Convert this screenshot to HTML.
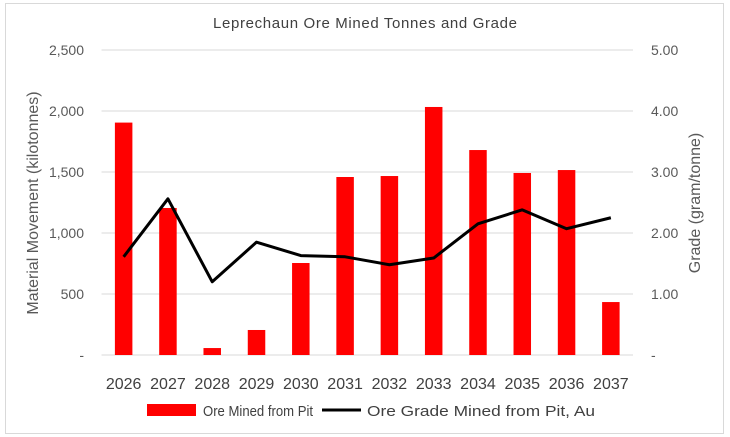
<!DOCTYPE html>
<html><head><meta charset="utf-8"><style>
body{margin:0;background:#fff;}
svg{display:block;font-family:"Liberation Sans",sans-serif;}
</style></head><body>
<svg id="chart" width="730" height="437">
<rect x="5.5" y="3.5" width="718" height="430" fill="#fff" stroke="#d9d9d9"/>
<text x="365" y="28" text-anchor="middle" font-size="15" fill="#404040" textLength="304">Leprechaun Ore Mined Tonnes and Grade</text>
<g id="grid"></g><g id="bars"></g><g id="line"></g><g id="axes"></g>
<text transform="translate(38,203) rotate(-90)" text-anchor="middle" font-size="16" fill="#595959">Material Movement (kilotonnes)</text>
<text transform="translate(700,203) rotate(-90)" text-anchor="middle" font-size="16" fill="#595959">Grade (gram/tonne)</text>
<g>
<rect x="147" y="404" width="49" height="12" fill="#ff0000"/>
<text x="203" y="416" font-size="15" fill="#404040" textLength="110" lengthAdjust="spacingAndGlyphs">Ore Mined from Pit</text>
<line x1="322" y1="410" x2="361" y2="410" stroke="#000" stroke-width="3"/>
<text x="367" y="416" font-size="15" fill="#404040" textLength="228" lengthAdjust="spacingAndGlyphs">Ore Grade Mined from Pit, Au</text>
</g>
</svg>
<script>
const categories=["2026","2027","2028","2029","2030","2031","2032","2033","2034","2035","2036","2037"];
const oreMined=[1905,1205,57,205,754,1459,1467,2033,1680,1492,1516,434];
const grade=[1.61,2.56,1.20,1.85,1.63,1.61,1.48,1.59,2.15,2.38,2.07,2.25];
const leftTicks=[0,500,1000,1500,2000,2500];
const leftTickLabels=["-","500","1,000","1,500","2,000","2,500"];
const rightTicks=[0,1,2,3,4,5];
const rightTickLabels=["-","1.00","2.00","3.00","4.00","5.00"];
const NS="http://www.w3.org/2000/svg";
const X0=101.5,X1=633,Y0=355,Y1=50;
const band=(X1-X0)/categories.length;
const xc=i=>X0+band*(i+0.5);
const yL=v=>Y0-(v/2500)*(Y0-Y1);
const yR=v=>Y0-(v/5)*(Y0-Y1);
function mk(tag,attrs,parent,text){const e=document.createElementNS(NS,tag);for(const k in attrs)e.setAttribute(k,attrs[k]);if(text!==undefined)e.textContent=text;document.getElementById(parent).appendChild(e);return e;}
leftTicks.forEach((t,i)=>{
 const g=mk('line',{x1:X0,x2:X1,y1:yL(t),y2:yL(t),stroke:'#d9d9d9','stroke-width':1},'grid');
 
 
 const l=mk('text',{x:84,y:yL(t)+5,'text-anchor':'end','font-size':14,fill:'#595959'},'axes',leftTickLabels[i]);
 
 
});
rightTicks.forEach((t,i)=>{
 const l=mk('text',{x:651,y:yR(t)+5,'text-anchor':'start','font-size':14,fill:'#595959'},'axes',rightTickLabels[i]);
 
 
});
const bw=17.5;
categories.forEach((c,i)=>{
 const b=mk('rect',{x:xc(i)-bw/2,y:yL(oreMined[i]),width:bw,height:Y0-yL(oreMined[i]),fill:'#ff0000'},'bars');
 
 
 const l=mk('text',{x:xc(i),y:389,'text-anchor':'middle','font-size':16,fill:'#404040'},'axes',c);
 
 
});
const pts=grade.map((g,i)=>xc(i)+','+yR(g)).join(' ');
const pl=mk('polyline',{points:pts,fill:'none',stroke:'#000','stroke-width':3,'stroke-linejoin':'round'},'line');


</script>
</body></html>
